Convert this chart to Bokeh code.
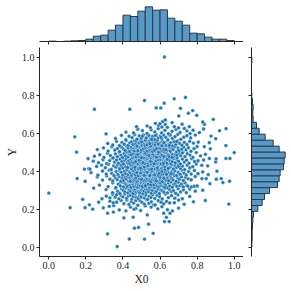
from bokeh.plotting import figure
from bokeh.layouts import column, row
from bokeh.models import Range1d, FixedTicker, PrintfTickFormatter
from bokeh.embed import file_html
from bokeh.resources import INLINE

# ---------------- data ----------------
# scatter points, coordinates in thousandths, grouped by Y band
b_low_x = [531, 620, 654, 317, 348, 455, 405, 624, 649, 634, 538, 462, 484, 317, 563, 434, 516, 369]
b_low_y = [169, 178, 178, 178, 184, 157, 153, 134, 134, 156, 120, 99, 103, 69, 72, 42, 42, 2]

b06_x = [115, 196, 237, 294, 326, 380, 416, 440, 470, 495, 520, 552, 588, 610, 640, 667, 700, 350, 460]
b06_y = [207, 207, 199, 206, 214, 195, 190, 210, 203, 192, 216, 210, 201, 212, 196, 190, 205, 218, 199]

b07_x = [219, 269, 330, 348, 366, 390, 405, 420, 432, 445, 458, 470, 480, 492, 503, 515, 527, 540, 553, 566,
         574, 590, 606, 620, 635, 652, 677, 700, 730, 780, 844, 971]
b07_y = [222, 236, 241, 233, 236, 245, 228, 248, 224, 239, 231, 246, 220, 243, 235, 226, 249, 230, 238, 222,
         221, 244, 236, 227, 240, 232, 233, 247, 225, 238, 245, 226]

b08_x = [183, 287, 310, 330, 345, 358, 366, 378, 390, 400, 410, 420, 430, 440, 448, 456, 465, 473, 482, 490,
         498, 507, 515, 524, 533, 542, 551, 560, 572, 585, 598, 612, 628, 645, 662, 680, 696, 720, 760]
b08_y = [251, 254, 268, 259, 277, 262, 275, 253, 271, 264, 280, 257, 269, 273, 252, 266, 278, 260, 255, 270,
         263, 279, 258, 274, 251, 267, 261, 276, 256, 272, 265, 253, 279, 260, 270, 257, 275, 254, 266]

b09_x = [0, 242, 309, 344, 360, 372, 383, 393, 402, 410, 418, 426, 433, 440, 447, 454, 460, 466, 472, 478,
         484, 490, 496, 502, 508, 514, 520, 526, 532, 538, 545, 552, 559, 566, 573, 580, 588, 596, 604, 612,
         621, 630, 640, 650, 661, 672, 684, 697, 711, 726, 742, 760, 790, 830]
b09_y = [284, 310, 302, 286, 309, 293, 282, 305, 298, 290, 311, 285, 300, 294, 307, 283, 297, 303, 289, 310,
         292, 286, 306, 299, 282, 295, 308, 288, 301, 291, 304, 284, 298, 311, 287, 293, 306, 282, 300, 296,
         289, 309, 285, 303, 292, 297, 283, 307, 290, 301, 286, 305, 294, 299]

b10_x = [273, 320, 345, 362, 375, 386, 395, 403, 411, 418, 425, 431, 437, 443, 449, 454, 459, 464, 469, 474,
         479, 484, 489, 494, 499, 504, 509, 514, 519, 524, 529, 534, 539, 544, 549, 554, 559, 564, 570, 576,
         582, 588, 594, 600, 606, 612, 618, 624, 631, 638, 645, 652, 659, 666, 674, 682, 690, 698, 707, 716,
         725, 735, 745, 750, 770, 785, 800, 869, 939, 455, 505, 535, 565, 600, 625, 480, 520, 550]
b10_y = [326, 318, 338, 313, 331, 322, 341, 316, 335, 328, 319, 343, 324, 314, 337, 330, 317, 340, 321, 333,
         315, 327, 342, 320, 336, 312, 329, 339, 323, 317, 334, 325, 343, 314, 332, 319, 338, 327, 313, 336,
         322, 341, 316, 330, 324, 339, 318, 333, 326, 312, 337, 321, 342, 315, 329, 335, 320, 340, 323, 331,
         317, 338, 325, 320, 316, 320, 321, 333, 339, 343, 318, 330, 326, 337, 314, 340, 323, 328]

b11_x = [153, 196, 262, 290, 312, 330, 345, 358, 369, 379, 388, 396, 404, 411, 418, 425, 431, 437, 443, 449,
         455, 460, 465, 470, 475, 480, 485, 490, 495, 500, 505, 510, 515, 520, 525, 530, 535, 540, 545, 550,
         555, 560, 565, 571, 577, 583, 589, 595, 601, 607, 613, 619, 626, 633, 640, 647, 654, 662, 670, 678,
         687, 696, 705, 715, 726, 738, 752, 768, 790, 826, 849, 903, 930, 975, 470, 510, 545, 580, 620, 500,
         560, 440, 600]
b11_y = [360, 346, 369, 352, 374, 357, 348, 365, 355, 371, 345, 362, 350, 368, 358, 373, 347, 364, 353, 370,
         349, 361, 356, 375, 344, 366, 351, 359, 372, 346, 363, 354, 369, 348, 367, 357, 374, 350, 362, 345,
         371, 356, 365, 352, 360, 373, 347, 368, 355, 363, 344, 370, 358, 351, 366, 349, 372, 361, 353, 375,
         346, 364, 357, 369, 350, 367, 359, 354, 371, 360, 360, 357, 360, 346, 365, 352, 370, 348, 362, 356,
         374, 345, 367]

b12_x = [228, 265, 290, 310, 326, 340, 352, 363, 373, 382, 391, 399, 407, 414, 421, 428, 434, 440, 446, 452,
         457, 462, 467, 472, 477, 482, 487, 492, 497, 502, 507, 512, 517, 522, 527, 532, 537, 542, 547, 552,
         557, 562, 567, 572, 578, 584, 590, 596, 602, 608, 614, 620, 627, 634, 641, 648, 656, 664, 672, 680,
         689, 698, 708, 718, 729, 741, 754, 768, 785, 805, 830, 860, 907, 475, 515, 555, 595, 635, 455, 530,
         570, 610, 495, 545, 585, 660]
b12_y = [391, 378, 400, 384, 405, 388, 376, 397, 382, 403, 393, 379, 399, 386, 406, 381, 395, 389, 377, 402,
         385, 396, 380, 404, 390, 375, 398, 387, 401, 383, 394, 378, 405, 392, 381, 400, 386, 376, 397, 389,
         403, 379, 395, 384, 406, 388, 377, 399, 391, 382, 402, 385, 396, 380, 404, 390, 378, 398, 387, 401,
         376, 393, 383, 405, 389, 379, 397, 384, 403, 386, 395, 381, 399, 392, 377, 400, 388, 383, 404, 394,
         380, 398, 390, 376, 402, 386]

b13_x = [192, 215, 222, 258, 285, 305, 322, 337, 350, 362, 372, 382, 391, 399, 407, 414, 421, 428, 434, 440,
         446, 452, 457, 462, 467, 472, 477, 482, 487, 492, 496, 500, 504, 508, 512, 516, 520, 524, 528, 532,
         536, 540, 544, 548, 552, 556, 560, 565, 570, 575, 580, 585, 590, 596, 602, 608, 614, 620, 627, 634,
         641, 648, 656, 664, 672, 681, 690, 700, 710, 721, 733, 746, 760, 776, 795, 825, 857, 465, 485, 505,
         525, 545, 565, 585, 605, 625, 645, 445, 425, 535, 555, 575, 515, 495, 615, 700]
b13_y = [410, 413, 410, 424, 431, 417, 435, 408, 427, 420, 433, 412, 429, 416, 437, 422, 407, 430, 419, 426,
         411, 434, 418, 428, 409, 436, 421, 414, 432, 425, 406, 419, 435, 412, 428, 423, 410, 431, 417, 437,
         413, 426, 408, 433, 420, 429, 415, 436, 411, 424, 432, 418, 407, 427, 434, 414, 422, 430, 409, 425,
         436, 416, 421, 433, 411, 428, 419, 435, 413, 426, 407, 431, 417, 423, 437, 430, 427, 420, 412, 434,
         424, 409, 429, 416, 436, 422, 414, 432, 418, 427, 410, 435, 421, 415, 431, 425]

b14_x = [212, 240, 268, 292, 312, 328, 342, 355, 366, 376, 385, 394, 402, 410, 417, 424, 431, 437, 443, 449,
         455, 460, 465, 470, 475, 480, 485, 490, 495, 500, 504, 508, 512, 516, 520, 524, 528, 532, 536, 540,
         544, 548, 552, 556, 560, 565, 570, 575, 580, 585, 590, 595, 600, 606, 612, 618, 624, 630, 637, 644,
         651, 658, 666, 674, 682, 691, 700, 710, 720, 731, 743, 756, 770, 786, 805, 835, 866, 900, 902, 955,
         977, 458, 478, 498, 518, 538, 558, 578, 598, 618, 638, 468, 488, 508, 528, 548, 568, 588]
b14_y = [465, 452, 444, 460, 439, 455, 467, 447, 458, 441, 463, 450, 437, 457, 466, 445, 453, 440, 461, 448,
         468, 443, 456, 451, 464, 438, 459, 446, 462, 442, 454, 467, 449, 439, 460, 444, 457, 465, 441, 452,
         463, 447, 437, 458, 450, 466, 443, 455, 461, 440, 448, 464, 453, 438, 459, 445, 468, 451, 442, 462,
         456, 439, 449, 466, 444, 460, 452, 437, 463, 447, 457, 441, 465, 450, 454, 458, 466, 448, 464, 466,
         466, 443, 461, 455, 439, 467, 446, 452, 459, 440, 462, 449, 456, 444, 465, 451, 438, 460]

b15_x = [150, 246, 275, 298, 317, 333, 347, 359, 370, 380, 389, 398, 406, 414, 421, 428, 435, 441, 447, 453,
         458, 463, 468, 473, 478, 483, 488, 493, 498, 502, 506, 510, 514, 518, 522, 526, 530, 534, 538, 542,
         546, 550, 554, 558, 562, 566, 570, 574, 579, 584, 589, 594, 599, 604, 609, 614, 620, 626, 632, 638,
         645, 652, 659, 667, 675, 683, 692, 701, 711, 722, 734, 747, 761, 777, 795, 818, 845, 1000, 470, 490,
         510, 530, 550, 570, 590, 610, 630, 650, 480, 500, 520, 540, 560, 580, 600, 620, 455, 445, 665, 690,
         720]
b15_y = [499, 478, 486, 472, 494, 481, 469, 490, 476, 497, 484, 471, 492, 480, 500, 474, 488, 483, 495, 470,
         479, 491, 486, 473, 498, 482, 475, 493, 487, 470, 496, 477, 489, 484, 472, 499, 481, 494, 476, 485,
         491, 469, 497, 479, 488, 474, 493, 483, 500, 471, 487, 480, 495, 475, 490, 485, 470, 498, 478, 492,
         482, 473, 496, 486, 477, 489, 471, 494, 481, 499, 476, 491, 484, 472, 497, 480, 488, 497, 474, 493,
         469, 485, 496, 478, 490, 483, 500, 475, 487, 470, 494, 481, 489, 473, 498, 477, 492, 486, 471, 484,
         495]

b16_x = [262, 295, 320, 340, 356, 370, 382, 393, 403, 412, 420, 428, 436, 443, 450, 457, 463, 469, 475, 481,
         487, 492, 497, 502, 507, 512, 517, 522, 527, 532, 537, 542, 547, 552, 557, 562, 567, 572, 577, 582,
         587, 592, 597, 603, 609, 615, 621, 627, 634, 641, 648, 655, 663, 671, 679, 688, 697, 707, 717, 728,
         740, 753, 767, 783, 800, 839, 871, 500, 530, 560, 590, 620, 650, 480, 510, 540, 570, 600, 630, 460,
         520, 580, 700]
b16_y = [513, 522, 505, 528, 510, 518, 502, 525, 515, 508, 530, 520, 503, 526, 512, 517, 506, 529, 521, 509,
         514, 524, 501, 519, 527, 507, 516, 531, 511, 504, 523, 518, 509, 526, 502, 514, 529, 520, 506, 524,
         512, 500, 527, 516, 508, 522, 503, 530, 517, 510, 525, 505, 519, 513, 528, 501, 521, 507, 515, 526,
         511, 523, 504, 518, 529, 528, 517, 510, 524, 502, 520, 514, 527, 506, 516, 530, 509, 521, 512, 505,
         525, 518, 508]

b17_x = [318, 345, 365, 381, 395, 407, 418, 428, 437, 446, 454, 462, 469, 476, 483, 490, 496, 502, 508, 514,
         520, 526, 532, 538, 544, 550, 556, 562, 568, 574, 580, 586, 592, 598, 605, 612, 619, 626, 633, 641,
         649, 657, 666, 675, 685, 695, 706, 718, 731, 745, 760, 780, 806, 866, 955, 500, 530, 560, 590, 620,
         650, 470, 545, 610, 690]
b17_y = [545, 537, 556, 533, 550, 541, 560, 535, 548, 553, 539, 558, 543, 532, 551, 547, 561, 536, 554, 542,
         534, 557, 546, 540, 559, 531, 549, 544, 555, 538, 552, 562, 537, 546, 533, 557, 541, 550, 535, 560,
         543, 548, 532, 554, 539, 558, 545, 536, 551, 540, 556, 547, 552, 549, 534, 553, 538, 561, 542, 548,
         535, 559, 544, 533, 555]

b18_x = [140, 360, 392, 415, 433, 449, 463, 476, 488, 499, 510, 520, 530, 540, 550, 560, 570, 580, 590, 600,
         610, 620, 631, 642, 654, 667, 681, 696, 712, 728, 745, 765, 790, 875, 900, 505, 555, 605, 655, 525,
         575]
b18_y = [580, 571, 588, 565, 583, 576, 592, 568, 585, 573, 590, 563, 579, 587, 570, 582, 566, 591, 575, 584,
         569, 589, 577, 564, 586, 572, 581, 593, 567, 578, 586, 574, 589, 584, 570, 583, 566, 577, 591, 573,
         587]

b19_x = [309, 416, 457, 480, 505, 530, 552, 572, 590, 608, 626, 645, 665, 686, 708, 731, 745, 762, 778, 812,
         835, 921, 956]
b19_y = [595, 605, 600, 620, 612, 598, 617, 606, 623, 601, 614, 596, 609, 619, 603, 624, 611, 597, 615, 602,
         621, 612, 623]

b20_x = [473, 548, 575, 592, 610, 628, 665, 677, 700, 719, 758, 839, 530, 640, 600]
b20_y = [633, 628, 651, 640, 631, 645, 655, 633, 627, 646, 633, 646, 637, 630, 649]

b_high_x = [615, 629, 830, 887, 701, 798, 753, 776, 246, 437, 579, 604, 710, 622, 516, 676, 737, 624]
b_high_y = [661, 669, 658, 672, 690, 693, 704, 718, 725, 725, 732, 732, 730, 757, 771, 780, 787, 1000]

# marginal histograms (counts)
hist_x_edges = [round(i * 0.04, 2) for i in range(26)]
hist_x_counts = [1, 0, 1, 2, 3, 7, 16, 19, 34, 49, 79, 75, 91, 104, 94, 95, 70, 61, 49, 25, 23, 13, 7, 7, 3]
hist_y_edges = [i / 32 for i in range(33)]
hist_y_counts = [1, 2, 2, 3, 4, 6, 19, 32, 39, 54, 78, 83, 86, 96, 98, 101, 83, 65, 41, 23, 15, 5, 4, 5, 3, 1,
                 0, 0, 0, 0, 0, 1]

tick_values = [0.0, 0.2, 0.4, 0.6, 0.8, 1.0]
x_label = "X0"
y_label = "Y"

# ---------------- assemble ----------------
bands = [(b_low_x, b_low_y), (b06_x, b06_y), (b07_x, b07_y), (b08_x, b08_y), (b09_x, b09_y),
         (b10_x, b10_y), (b11_x, b11_y), (b12_x, b12_y), (b13_x, b13_y), (b14_x, b14_y),
         (b15_x, b15_y), (b16_x, b16_y), (b17_x, b17_y), (b18_x, b18_y), (b19_x, b19_y),
         (b20_x, b20_y), (b_high_x, b_high_y)]
xs, ys = [], []
for bx, by in bands:
    assert len(bx) == len(by), (len(bx), len(by))
    xs += [v / 1000 for v in bx]
    ys += [v / 1000 for v in by]

INK = "#262626"
FONT = "Liberation Serif"
BAR_FILL = "#5799c7"
BAR_LINE = "#2b3a48"
DOT = "#1f77b4"

def base_fig(**kw):
    p = figure(output_backend="svg", toolbar_location=None, **kw)
    p.outline_line_color = None
    p.grid.visible = False
    p.background_fill_color = "white"
    p.border_fill_color = "white"
    return p

def style_axis(ax, labels=True):
    ax.axis_line_color = INK
    ax.axis_line_width = 1
    ax.major_tick_line_color = INK
    ax.major_tick_line_width = 1
    ax.major_tick_out = 3
    ax.major_tick_in = 0
    ax.minor_tick_line_color = None
    ax.ticker = FixedTicker(ticks=tick_values)
    if labels:
        ax.formatter = PrintfTickFormatter(format="%.1f")
        ax.major_label_text_font = FONT
        ax.major_label_text_font_size = "10px"
        ax.major_label_text_color = INK
        ax.major_label_standoff = 2
        ax.axis_label_text_font = FONT
        ax.axis_label_text_font_size = "11.5px"
        ax.axis_label_text_font_style = "normal"
        ax.axis_label_text_color = INK
        ax.axis_label_standoff = 1
    else:
        ax.major_label_text_color = None
        ax.major_label_text_font_size = "1px"
        ax.major_label_standoff = 0

x_range = Range1d(-0.05, 1.05)
y_range = Range1d(-0.05, 1.05)

main = base_fig(width=243, height=244, x_range=x_range, y_range=y_range,
                min_border_left=39, min_border_right=0, min_border_top=0, min_border_bottom=35)
main.scatter(xs, ys, size=3.8, fill_color=DOT, line_color="white", line_width=0.4)
style_axis(main.xaxis[0])
style_axis(main.yaxis[0])
main.xaxis[0].axis_label = x_label
main.yaxis[0].axis_label = y_label

top = base_fig(width=243, height=47, x_range=x_range, y_range=Range1d(0, 123),
               min_border_left=39, min_border_right=0, min_border_top=0, min_border_bottom=6,
               y_axis_location=None)
top.quad(left=hist_x_edges[:-1], right=hist_x_edges[1:], bottom=0, top=hist_x_counts,
         fill_color=BAR_FILL, line_color=BAR_LINE, line_width=1)
style_axis(top.xaxis[0], labels=False)

side = base_fig(width=48, height=244, x_range=Range1d(0, 120), y_range=y_range,
                min_border_left=8, min_border_right=0, min_border_top=0, min_border_bottom=35,
                x_axis_location=None)
side.quad(bottom=hist_y_edges[:-1], top=hist_y_edges[1:], left=0, right=hist_y_counts,
          fill_color=BAR_FILL, line_color=BAR_LINE, line_width=1)
style_axis(side.yaxis[0], labels=False)

layout = column(top, row(main, side, spacing=0), spacing=0)

open("out.html", "w").write(file_html(layout, INLINE))
